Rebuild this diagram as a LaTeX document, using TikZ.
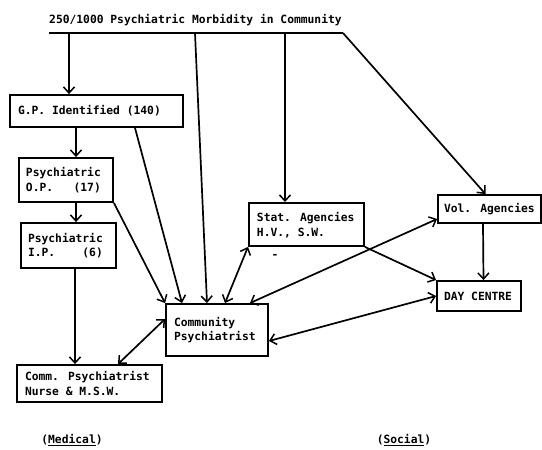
\documentclass[tikz,border=0pt]{standalone}
\usepackage{fontspec}
\setmainfont{DejaVu Sans Mono}[WordSpace={1,0,0}]
\usetikzlibrary{arrows.meta}
\tikzset{
  txt/.style={font=\fontsize{11.3}{14.5}\selectfont\bfseries, inner sep=0pt},
  box/.style={draw, line width=1.9pt, txt, align=flush left, inner xsep=8pt, inner ysep=0pt,
    execute at begin node={\hyphenpenalty=10000\relax}},
  conn/.style={line width=1.7pt},
  tip/.tip={Straight Barb[length=6pt,width=11pt,line width=1.5pt]},
  arr/.style={conn, -tip},
  darr/.style={conn, tip-tip}
}
\begin{document}
\begin{tikzpicture}[x=1pt,y=-1pt]
\useasboundingbox (0,0) rectangle (542,450);
% title
\node[txt, anchor=west] (title) at (49,20) {250/1000 Psychiatric Morbidity in Community};
% boxes
\node[box, text width=157pt, minimum height=32pt] (gp) at (96.5,111) {G.P. Identified (140)};
\node[box, text width=80pt, inner xsep=7pt, minimum height=44pt] (op) at (66,180) {Psychiatric\\O.P.\ \ \ (17)};
\node[box, text width=81pt, inner xsep=7pt, minimum height=45pt] (ip) at (68.5,245.5) {Psychiatric\\I.P.\ \ \ \ (6)};
\node[box, text width=99pt, minimum height=43pt, anchor=north west] (stat) at (248,202) {\rule{0pt}{11pt}Stat. Agencies\\H.V., S.W.\\[6pt]};
\node[txt] (dash) at (275,256) {-};
\node[box, text width=91pt, inner xsep=6pt, minimum height=28pt] (vol) at (489.5,209) {Vol. Agencies};
\node[box, text width=70pt, inner xsep=7pt, minimum height=30pt] (day) at (479,296) {DAY CENTRE};
\node[box, text width=86pt, minimum height=52pt] (cp) at (217,330) {Community\\Psychiatrist};
\node[box, text width=129pt, minimum height=37pt] (nurse) at (89.5,383.5) {Comm. Psychiatrist\\Nurse \& M.S.W.};
% labels
\node[txt] (med) at (72,440) {(\underline{Medical})};
\node[txt] (soc) at (404,440) {(\underline{Social})};
% top distribution line
\coordinate (tl) at (49,33);
\coordinate (tr) at (343,33);
\coordinate (t1) at (69,33);
\coordinate (t2) at (195,33);
\coordinate (t3) at (285,33);
\draw[conn] (tl) -- (tr);
\draw[arr] (tr) -- ([xshift=-4pt]vol.north);
\draw[arr] (t1) -- (t1 |- gp.north);
\draw[arr] (t2) -- ([xshift=-10pt]cp.north);
\draw[arr] (t3) -- (t3 |- stat.north);
% medical chain
\draw[arr] ([xshift=-20.5pt]gp.south) -- ([xshift=10pt]op.north);
\draw[arr] ([xshift=10pt]op.south) -- ([xshift=7.5pt]ip.north);
\draw[arr] ([xshift=6.5pt]ip.south) -- ([xshift=-14.5pt]nurse.north);
\draw[arr] ([xshift=38.5pt]gp.south) -- ([xshift=-35pt]cp.north);
\draw[arr] (op.south east) -- (cp.north west);
% community psychiatrist links
\draw[darr] ([xshift=8pt]cp.north) -- (stat.south west);
\draw[darr] ([xshift=33pt]cp.north) -- ([yshift=-10pt]vol.west);
\draw[darr] ([yshift=-11pt]cp.east) -- (day.west);
\draw[darr] ([xshift=28.5pt]nurse.north) -- ([yshift=11pt]cp.west);
% social
\draw[arr] (stat.south east) -- (day.north west);
\draw[arr] ([xshift=-6.5pt]vol.south) -- ([xshift=4.5pt]day.north);
\end{tikzpicture}
\end{document}
